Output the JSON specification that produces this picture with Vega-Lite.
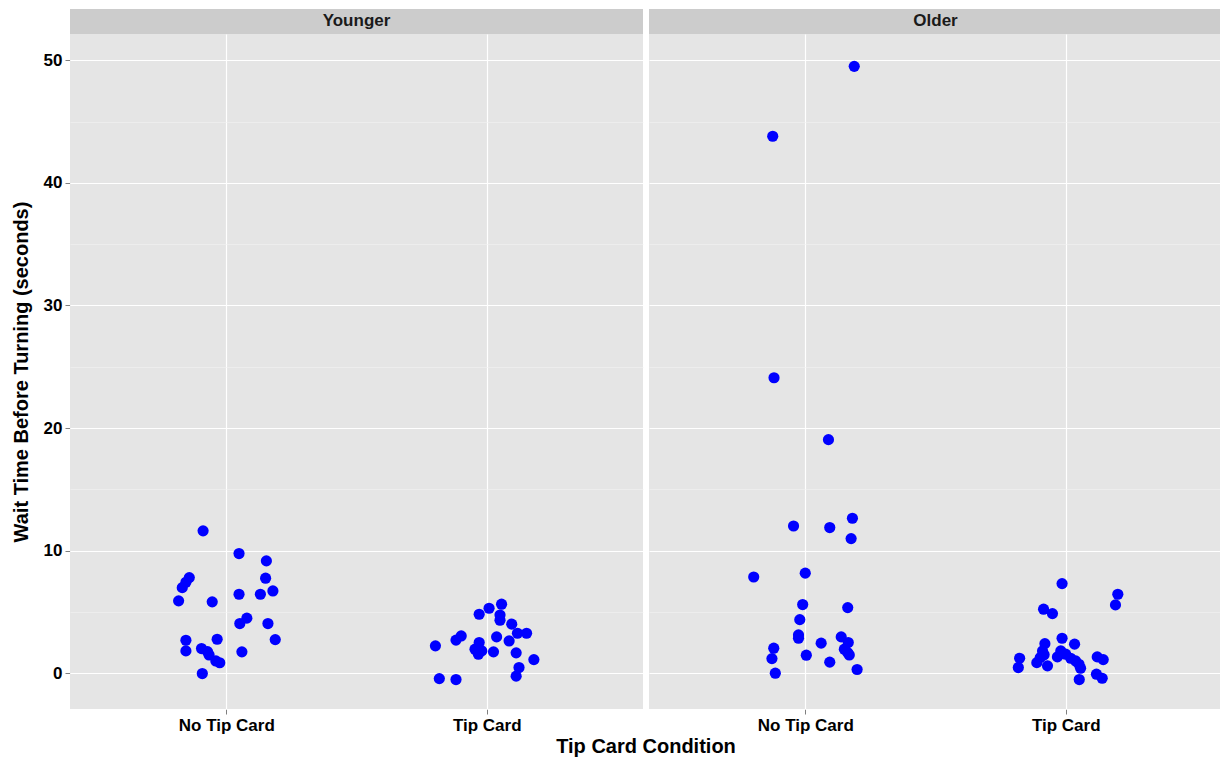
{
  "$schema": "https://vega.github.io/schema/vega-lite/v6.json",
  "padding": {"left": 11, "top": 8, "right": 0, "bottom": 0},
  "background": "white",
  "data": {"values": [
    {"age": "Younger", "xpos": 0.911, "wait": 11.61},
    {"age": "Younger", "xpos": 1.049, "wait": 9.76},
    {"age": "Younger", "xpos": 1.154, "wait": 9.16},
    {"age": "Younger", "xpos": 0.858, "wait": 7.80},
    {"age": "Younger", "xpos": 0.845, "wait": 7.42},
    {"age": "Younger", "xpos": 0.831, "wait": 6.98},
    {"age": "Younger", "xpos": 1.151, "wait": 7.75},
    {"age": "Younger", "xpos": 0.817, "wait": 5.90},
    {"age": "Younger", "xpos": 0.946, "wait": 5.82},
    {"age": "Younger", "xpos": 1.049, "wait": 6.44},
    {"age": "Younger", "xpos": 1.131, "wait": 6.44},
    {"age": "Younger", "xpos": 1.179, "wait": 6.71},
    {"age": "Younger", "xpos": 1.079, "wait": 4.49},
    {"age": "Younger", "xpos": 1.052, "wait": 4.05},
    {"age": "Younger", "xpos": 1.160, "wait": 4.05},
    {"age": "Younger", "xpos": 0.845, "wait": 2.69},
    {"age": "Younger", "xpos": 0.965, "wait": 2.77},
    {"age": "Younger", "xpos": 1.188, "wait": 2.74},
    {"age": "Younger", "xpos": 0.845, "wait": 1.82},
    {"age": "Younger", "xpos": 0.905, "wait": 2.01},
    {"age": "Younger", "xpos": 0.928, "wait": 1.76},
    {"age": "Younger", "xpos": 0.934, "wait": 1.49},
    {"age": "Younger", "xpos": 0.960, "wait": 1.00},
    {"age": "Younger", "xpos": 0.975, "wait": 0.85},
    {"age": "Younger", "xpos": 1.060, "wait": 1.74},
    {"age": "Younger", "xpos": 0.908, "wait": -0.03},
    {"age": "Younger", "xpos": 2.057, "wait": 5.63},
    {"age": "Younger", "xpos": 2.009, "wait": 5.30},
    {"age": "Younger", "xpos": 1.971, "wait": 4.81},
    {"age": "Younger", "xpos": 2.051, "wait": 4.75},
    {"age": "Younger", "xpos": 2.051, "wait": 4.32},
    {"age": "Younger", "xpos": 2.096, "wait": 4.00},
    {"age": "Younger", "xpos": 2.118, "wait": 3.26},
    {"age": "Younger", "xpos": 2.153, "wait": 3.26},
    {"age": "Younger", "xpos": 1.803, "wait": 2.23},
    {"age": "Younger", "xpos": 1.882, "wait": 2.70},
    {"age": "Younger", "xpos": 1.902, "wait": 3.04},
    {"age": "Younger", "xpos": 2.038, "wait": 2.96},
    {"age": "Younger", "xpos": 2.086, "wait": 2.63},
    {"age": "Younger", "xpos": 1.971, "wait": 2.50},
    {"age": "Younger", "xpos": 1.955, "wait": 1.96},
    {"age": "Younger", "xpos": 1.981, "wait": 1.82},
    {"age": "Younger", "xpos": 1.968, "wait": 1.55},
    {"age": "Younger", "xpos": 2.026, "wait": 1.74},
    {"age": "Younger", "xpos": 2.113, "wait": 1.66},
    {"age": "Younger", "xpos": 2.181, "wait": 1.11},
    {"age": "Younger", "xpos": 2.124, "wait": 0.46},
    {"age": "Younger", "xpos": 2.113, "wait": -0.24},
    {"age": "Younger", "xpos": 1.818, "wait": -0.44},
    {"age": "Younger", "xpos": 1.882, "wait": -0.52},
    {"age": "Older", "xpos": 1.181, "wait": 12.64},
    {"age": "Older", "xpos": 0.955, "wait": 12.01},
    {"age": "Older", "xpos": 1.094, "wait": 11.88},
    {"age": "Older", "xpos": 1.176, "wait": 10.98},
    {"age": "Older", "xpos": 0.802, "wait": 7.85},
    {"age": "Older", "xpos": 1.000, "wait": 8.16},
    {"age": "Older", "xpos": 0.990, "wait": 5.60},
    {"age": "Older", "xpos": 1.163, "wait": 5.35},
    {"age": "Older", "xpos": 0.979, "wait": 4.37},
    {"age": "Older", "xpos": 0.974, "wait": 3.12},
    {"age": "Older", "xpos": 0.974, "wait": 2.85},
    {"age": "Older", "xpos": 0.879, "wait": 2.04},
    {"age": "Older", "xpos": 1.061, "wait": 2.45},
    {"age": "Older", "xpos": 1.138, "wait": 2.96},
    {"age": "Older", "xpos": 1.165, "wait": 2.50},
    {"age": "Older", "xpos": 1.150, "wait": 1.96},
    {"age": "Older", "xpos": 1.163, "wait": 1.68},
    {"age": "Older", "xpos": 1.169, "wait": 1.49},
    {"age": "Older", "xpos": 0.872, "wait": 1.19},
    {"age": "Older", "xpos": 1.004, "wait": 1.47},
    {"age": "Older", "xpos": 1.094, "wait": 0.90},
    {"age": "Older", "xpos": 1.199, "wait": 0.30},
    {"age": "Older", "xpos": 0.885, "wait": 0.00},
    {"age": "Older", "xpos": 1.188, "wait": 49.5},
    {"age": "Older", "xpos": 0.875, "wait": 43.8},
    {"age": "Older", "xpos": 0.880, "wait": 24.1},
    {"age": "Older", "xpos": 1.089, "wait": 19.05},
    {"age": "Older", "xpos": 1.986, "wait": 7.31},
    {"age": "Older", "xpos": 2.200, "wait": 6.44},
    {"age": "Older", "xpos": 2.191, "wait": 5.57},
    {"age": "Older", "xpos": 1.915, "wait": 5.22},
    {"age": "Older", "xpos": 1.949, "wait": 4.86},
    {"age": "Older", "xpos": 1.986, "wait": 2.85},
    {"age": "Older", "xpos": 1.920, "wait": 2.41},
    {"age": "Older", "xpos": 2.034, "wait": 2.37},
    {"age": "Older", "xpos": 1.823, "wait": 1.22},
    {"age": "Older", "xpos": 1.818, "wait": 0.46},
    {"age": "Older", "xpos": 1.911, "wait": 1.82},
    {"age": "Older", "xpos": 1.902, "wait": 1.27},
    {"age": "Older", "xpos": 1.889, "wait": 0.86},
    {"age": "Older", "xpos": 1.930, "wait": 0.60},
    {"age": "Older", "xpos": 1.917, "wait": 1.50},
    {"age": "Older", "xpos": 1.981, "wait": 1.82},
    {"age": "Older", "xpos": 1.968, "wait": 1.33},
    {"age": "Older", "xpos": 2.000, "wait": 1.55},
    {"age": "Older", "xpos": 2.019, "wait": 1.22},
    {"age": "Older", "xpos": 2.038, "wait": 1.00},
    {"age": "Older", "xpos": 2.051, "wait": 0.73},
    {"age": "Older", "xpos": 2.057, "wait": 0.41},
    {"age": "Older", "xpos": 2.052, "wait": -0.52},
    {"age": "Older", "xpos": 2.121, "wait": 1.33},
    {"age": "Older", "xpos": 2.144, "wait": 1.11},
    {"age": "Older", "xpos": 2.118, "wait": -0.08},
    {"age": "Older", "xpos": 2.140, "wait": -0.41}
  ]},
  "facet": {
    "column": {
      "field": "age", "type": "nominal", "sort": ["Younger", "Older"],
      "title": "Tip Card Condition",
      "header": {
        "labels": false, "titleOrient": "bottom",
        "titleFont": "Liberation Sans", "titleFontSize": 20, "titleFontWeight": "bold",
        "titleColor": "black", "titlePadding": -6
      }
    }
  },
  "spacing": 6,
  "spec": {
    "width": 573,
    "height": 675,
    "layer": [
      {
        "mark": {"type": "circle", "size": 125, "color": "#0000ff", "opacity": 1},
        "encoding": {
          "x": {
            "field": "xpos", "type": "quantitative",
            "scale": {"domain": [0.4, 2.6], "nice": false, "zero": false},
            "axis": {
              "title": null, "values": [1, 2],
              "labelExpr": "datum.value == 1 ? 'No Tip Card' : 'Tip Card'",
              "grid": true, "gridColor": "white", "gridWidth": 1.2,
              "domain": false, "tickColor": "#7f7f7f", "tickSize": 5,
              "labelFont": "Liberation Sans", "labelFontSize": 17, "labelFontWeight": "bold",
              "labelColor": "black", "labelPadding": 3
            }
          },
          "y": {
            "field": "wait", "type": "quantitative",
            "scale": {"domain": [-2.92, 52.14], "nice": false, "zero": false},
            "axis": {
              "title": "Wait Time Before Turning (seconds)",
              "values": [0, 5, 10, 15, 20, 25, 30, 35, 40, 45, 50],
              "labelExpr": "datum.value % 10 === 0 ? datum.label : ''",
              "grid": true,
              "gridColor": {"condition": {"test": "datum.value % 10 === 0", "value": "#ffffff"}, "value": "#f2f2f2"},
              "gridWidth": {"condition": {"test": "datum.value % 10 === 0", "value": 1.2}, "value": 0.6},
              "tickOpacity": {"condition": {"test": "datum.value % 10 === 0", "value": 1}, "value": 0},
              "domain": false, "tickColor": "#7f7f7f", "tickSize": 5,
              "labelFont": "Liberation Sans", "labelFontSize": 17, "labelFontWeight": "bold",
              "labelColor": "black", "labelPadding": 3,
              "titleFont": "Liberation Sans", "titleFontSize": 20, "titleFontWeight": "bold",
              "titleColor": "black", "titlePadding": 12
            }
          }
        }
      },
      {
        "transform": [{"aggregate": [{"op": "count", "as": "n"}], "groupby": ["age"]}],
        "mark": {"type": "rect", "color": "#cccccc"},
        "encoding": {
          "x": {"datum": 0.4, "type": "quantitative", "title": null},
          "x2": {"datum": 2.6},
          "y": {"datum": 52.14, "type": "quantitative", "title": null},
          "y2": {"datum": 54.18}
        }
      },
      {
        "transform": [{"aggregate": [{"op": "count", "as": "n"}], "groupby": ["age"]}],
        "mark": {"type": "text", "font": "Liberation Sans", "fontSize": 17, "fontWeight": "bold", "color": "#1a1a1a", "baseline": "middle", "align": "center"},
        "encoding": {
          "x": {"datum": 1.5, "type": "quantitative", "title": null},
          "y": {"datum": 53.16, "type": "quantitative", "title": null},
          "text": {"field": "age", "type": "nominal"}
        }
      }
    ]
  },
  "config": {
    "view": {"fill": "#e5e5e5", "stroke": null}
  }
}
